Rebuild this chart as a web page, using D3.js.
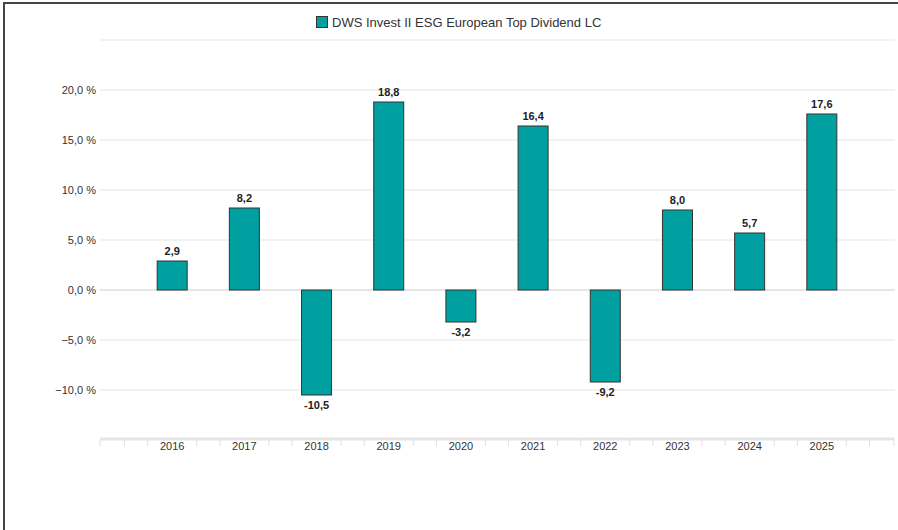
<!DOCTYPE html>
<html>
<head>
<meta charset="utf-8">
<script src="https://cdn.jsdelivr.net/npm/d3@7"></script>
<style>
  body { margin: 0; background: #fff; }
  svg { display: block; font-family: "Liberation Sans", Arial, sans-serif; }
</style>
</head>
<body>
<svg id="chart"></svg>
<script>
var width = 898, height = 530;
var seriesName = "DWS Invest II ESG European Top Dividend LC";
var years = ["2016", "2017", "2018", "2019", "2020", "2021", "2022", "2023", "2024", "2025"];
var values = [2.9, 8.2, -10.5, 18.8, -3.2, 16.4, -9.2, 8.0, 5.7, 17.6];
var yTicks = [-10, -5, 0, 5, 10, 15, 20];
var gridTicks = [-15, -10, -5, 0, 5, 10, 15, 20, 25];
var barColor = "#00a0a0";

var svg = d3.select("#chart").attr("width", width).attr("height", height);

// outer frame (only left and top edges are visible)
svg.append("line").attr("x1", 4).attr("x2", 4).attr("y1", 2).attr("y2", height)
  .attr("stroke", "#444").attr("stroke-width", 2);
svg.append("line").attr("x1", 3).attr("x2", width).attr("y1", 3).attr("y2", 3)
  .attr("stroke", "#444").attr("stroke-width", 2);

// slots: one empty slot either side of the years
var slots = ["s0"].concat(years, ["s1"]);
var x = d3.scalePoint().domain(slots).range([100, 894]);
var step = x.step();
var barW = 30;

var y = d3.scaleLinear().domain([-15, 25]).range([440, 40]);

// grid lines
svg.append("g").selectAll("line")
  .data(gridTicks.filter(function(d) { return d !== -15; }))
  .enter().append("line")
  .attr("x1", 100).attr("x2", 895)
  .attr("y1", function(d) { return y(d); })
  .attr("y2", function(d) { return y(d); })
  .attr("stroke", "#e6e6e6")
  .attr("stroke-width", function(d) { return d === 0 ? 2 : 1.2; });

// y labels
svg.append("g").selectAll("text")
  .data(yTicks)
  .enter().append("text")
  .attr("x", 96)
  .attr("y", function(d) { return y(d); })
  .attr("dy", "0.35em")
  .attr("text-anchor", "end")
  .attr("font-size", 11)
  .attr("fill", "#333")
  .text(function(d) { return d3.format(".1f")(d).replace(".", ",").replace("-", "-") + " %"; });

// x axis line
svg.append("line").attr("x1", 100).attr("x2", 894).attr("y1", 439).attr("y2", 439)
  .attr("stroke", "#e6e6e6").attr("stroke-width", 3);

// x ticks: at each slot centre +/- a fixed offset, plus the axis ends
var tickPos = [100, 894];
slots.forEach(function(s) {
  tickPos.push(x(s) - 24.5);
  tickPos.push(x(s) + 24.5);
});
tickPos = tickPos.filter(function(p) { return p >= 100 && p <= 894; });
svg.append("g").selectAll("line")
  .data(tickPos)
  .enter().append("line")
  .attr("x1", function(d) { return d; }).attr("x2", function(d) { return d; })
  .attr("y1", 439).attr("y2", 446)
  .attr("stroke", "#e0e0e0").attr("stroke-width", 1);

svg.append("g").selectAll("text")
  .data(years)
  .enter().append("text")
  .attr("x", function(d) { return x(d); })
  .attr("y", 450)
  .attr("text-anchor", "middle")
  .attr("font-size", 11)
  .attr("fill", "#333")
  .text(function(d) { return d; });

// bars
var data = years.map(function(yr, i) { return { year: yr, value: values[i] }; });

svg.append("g").selectAll("rect")
  .data(data)
  .enter().append("rect")
  .attr("x", function(d) { return x(d.year) - barW / 2; })
  .attr("width", barW)
  .attr("y", function(d) { return y(Math.max(0, d.value)); })
  .attr("height", function(d) { return Math.abs(y(d.value) - y(0)); })
  .attr("fill", barColor)
  .attr("stroke", "#333")
  .attr("stroke-width", 1);

// value labels
svg.append("g").selectAll("text")
  .data(data)
  .enter().append("text")
  .attr("x", function(d) { return x(d.year); })
  .attr("y", function(d) { return d.value >= 0 ? y(d.value) - 6 : y(d.value) + 14; })
  .attr("text-anchor", "middle")
  .attr("font-size", 11)
  .attr("font-weight", "bold")
  .attr("fill", "#222")
  .text(function(d) { return d3.format(".1f")(d.value).replace(".", ",").replace("−", "-"); });

// legend
var legend = svg.append("g").attr("transform", "translate(316,16)");
legend.append("rect").attr("x", 0.5).attr("y", 0.5).attr("width", 11).attr("height", 11)
  .attr("fill", barColor).attr("stroke", "#333");
legend.append("text").attr("x", 16).attr("y", 10.5)
  .attr("font-size", 13).attr("fill", "#333")
  .text(seriesName);
</script>
</body>
</html>
